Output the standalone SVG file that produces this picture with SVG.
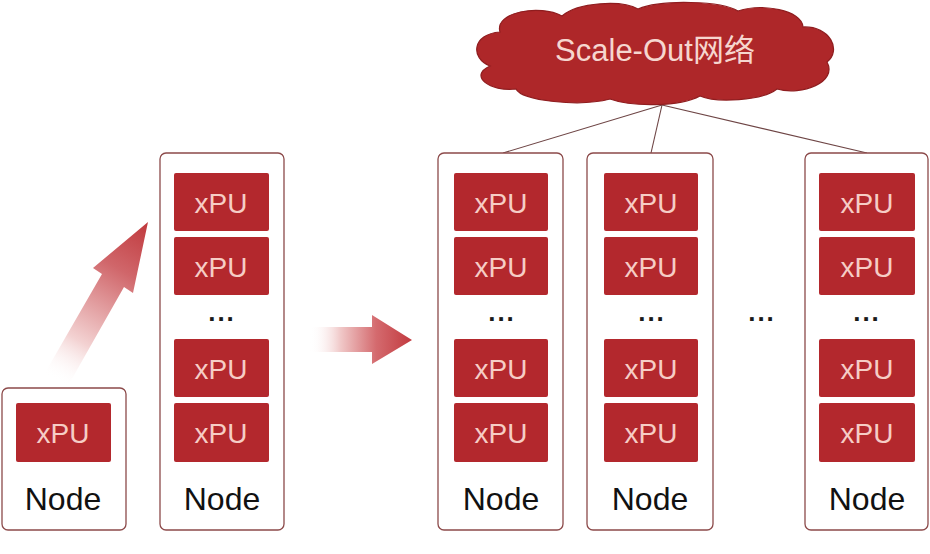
<svg xmlns="http://www.w3.org/2000/svg" width="930" height="554" viewBox="0 0 930 554">
<defs>
<style>
.node{fill:#ffffff;stroke:#8c4a4a;stroke-width:1.3}
.xpu{fill:#b3282d}
.xt{font-family:"Liberation Sans",Arial,sans-serif;font-size:28px;fill:#f6cdc6;text-anchor:middle}
.nt{font-family:"Liberation Sans",Arial,sans-serif;font-size:32px;fill:#111111;text-anchor:middle}
.dots{font-family:"Liberation Sans",Arial,sans-serif;font-size:26px;font-weight:bold;fill:#1a1a1a;text-anchor:middle;letter-spacing:2px}
.link{stroke:#6e4545;stroke-width:1.1;fill:none}
</style>
<linearGradient id="gDiag" gradientUnits="userSpaceOnUse" x1="55" y1="380" x2="148" y2="222">
<stop offset="0" stop-color="#ffffff" stop-opacity="0"/>
<stop offset="0.25" stop-color="#f3d2d2"/>
<stop offset="0.7" stop-color="#d0666a"/>
<stop offset="1" stop-color="#c0393d"/>
</linearGradient>
<linearGradient id="gHor" gradientUnits="userSpaceOnUse" x1="310" y1="0" x2="412" y2="0">
<stop offset="0" stop-color="#ffffff" stop-opacity="0"/>
<stop offset="0.3" stop-color="#f0c8c8"/>
<stop offset="0.65" stop-color="#d46a6e"/>
<stop offset="1" stop-color="#c23a3f"/>
</linearGradient>
</defs>
<rect width="930" height="554" fill="#ffffff"/>

<g id="connectors">
<line class="link" x1="662" y1="105" x2="503" y2="153"/>
<line class="link" x1="662" y1="105" x2="651" y2="153"/>
<line class="link" x1="662" y1="105" x2="867" y2="153"/>
<polygon points="148,222 133,293 124,287 65,391 42,378 102,274 93,268" fill="url(#gDiag)"/>
<polygon points="310,327 372,327 372,315 412,340 372,364 372,352 310,352" fill="url(#gHor)"/>
</g>

<g id="cloud">
<path d="M500 32 C494 12,540 4,562 16 C578 2,622 0,638 9 C662 -1,722 1,738 11 C762 3,802 10,803 27 C830 26,842 50,827 62 C838 82,802 96,777 89 C762 101,716 103,700 96 C680 107,632 107,610 99 C580 107,522 101,516 89 C490 92,468 76,490 66 C470 58,472 34,500 32 Z" fill="#ae2729" stroke="#8f1d1f" stroke-width="1.2"/>
<text x="655" y="61" font-family="'Liberation Sans','Noto Sans CJK SC',sans-serif" font-size="31" fill="#f6d6cf" text-anchor="middle">Scale-Out网络</text>
</g>

<g id="node1">
<rect class="node" x="2" y="388" width="124" height="142" rx="6"/>
<rect class="xpu" x="16" y="403" width="95" height="59" rx="2"/>
<text class="xt" x="63" y="443">xPU</text>
<text class="nt" x="63" y="510">Node</text>
</g>

<g id="node2">
<rect class="node" x="160" y="153" width="124" height="377" rx="6"/>
<rect class="xpu" x="174" y="173" width="95" height="58" rx="2"/>
<text class="xt" x="221" y="213">xPU</text>
<rect class="xpu" x="174" y="237" width="95" height="58" rx="2"/>
<text class="xt" x="221" y="277">xPU</text>
<text class="dots" x="222" y="321">...</text>
<rect class="xpu" x="174" y="339" width="95" height="58" rx="2"/>
<text class="xt" x="221" y="379">xPU</text>
<rect class="xpu" x="174" y="403" width="95" height="59" rx="2"/>
<text class="xt" x="221" y="443">xPU</text>
<text class="nt" x="222" y="510">Node</text>
</g>

<g id="node3">
<rect class="node" x="438" y="153" width="125" height="377" rx="6"/>
<rect class="xpu" x="454" y="173" width="94" height="58" rx="2"/>
<text class="xt" x="501" y="213">xPU</text>
<rect class="xpu" x="454" y="237" width="94" height="58" rx="2"/>
<text class="xt" x="501" y="277">xPU</text>
<text class="dots" x="502" y="321">...</text>
<rect class="xpu" x="454" y="339" width="94" height="58" rx="2"/>
<text class="xt" x="501" y="379">xPU</text>
<rect class="xpu" x="454" y="403" width="94" height="59" rx="2"/>
<text class="xt" x="501" y="443">xPU</text>
<text class="nt" x="501" y="510">Node</text>
</g>

<g id="node4">
<rect class="node" x="587" y="153" width="126" height="377" rx="6"/>
<rect class="xpu" x="604" y="173" width="94" height="58" rx="2"/>
<text class="xt" x="651" y="213">xPU</text>
<rect class="xpu" x="604" y="237" width="94" height="58" rx="2"/>
<text class="xt" x="651" y="277">xPU</text>
<text class="dots" x="652" y="321">...</text>
<rect class="xpu" x="604" y="339" width="94" height="58" rx="2"/>
<text class="xt" x="651" y="379">xPU</text>
<rect class="xpu" x="604" y="403" width="94" height="59" rx="2"/>
<text class="xt" x="651" y="443">xPU</text>
<text class="nt" x="650" y="510">Node</text>
</g>

<text class="dots" x="762" y="321">...</text>

<g id="node5">
<rect class="node" x="805" y="153" width="123" height="377" rx="6"/>
<rect class="xpu" x="819" y="173" width="96" height="58" rx="2"/>
<text class="xt" x="867" y="213">xPU</text>
<rect class="xpu" x="819" y="237" width="96" height="58" rx="2"/>
<text class="xt" x="867" y="277">xPU</text>
<text class="dots" x="867" y="321">...</text>
<rect class="xpu" x="819" y="339" width="96" height="58" rx="2"/>
<text class="xt" x="867" y="379">xPU</text>
<rect class="xpu" x="819" y="403" width="96" height="59" rx="2"/>
<text class="xt" x="867" y="443">xPU</text>
<text class="nt" x="867" y="510">Node</text>
</g>
</svg>
